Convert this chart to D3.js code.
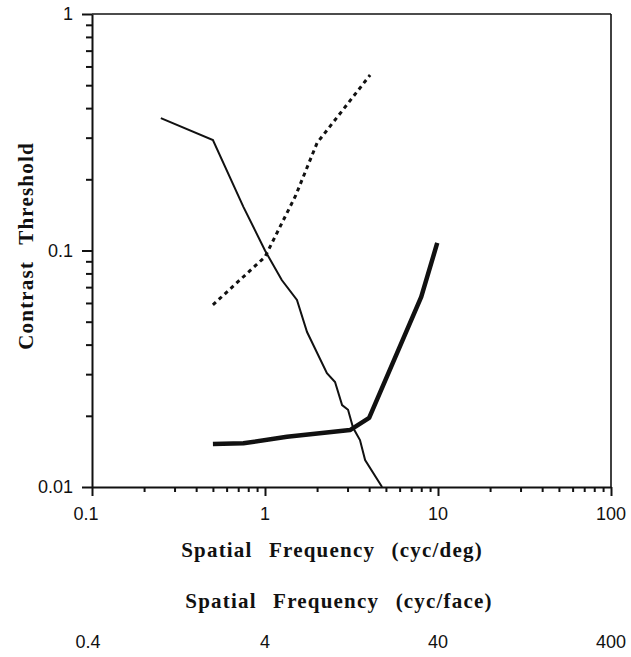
<!DOCTYPE html>
<html>
<head>
<meta charset="utf-8">
<script src="https://cdn.jsdelivr.net/npm/d3@7"></script>
<style>
  body { margin: 0; background: #fff; }
  .tick-label { font-family: "Liberation Sans", Arial, sans-serif; font-size: 18px; fill: #111; }
  .axis-title { font-family: "Liberation Serif", "Times New Roman", serif; font-weight: bold; font-size: 21px; letter-spacing: 1.2px; word-spacing: 10px; fill: #111; }
</style>
</head>
<body>
<div id="chart"></div>
<script>
// thin solid curve (cyc/deg, threshold)
const thinFreq = [0.25, 0.5, 0.75, 1.0, 1.25, 1.53, 1.75, 2.28, 2.54, 2.79, 3.02, 3.23, 3.54, 3.79, 4.75];
const thinThr  = [0.363, 0.293, 0.153, 0.1, 0.075, 0.0618, 0.0452, 0.0303, 0.0278, 0.0222, 0.0212, 0.0178, 0.0158, 0.013, 0.01];

// dotted curve
const dotFreq = [0.5, 1.0, 1.5, 2.0, 4.05];
const dotThr  = [0.0589, 0.094, 0.17, 0.285, 0.552];

// thick curve
const thickFreq = [0.5, 0.75, 1.34, 3.1, 4.0, 8.0, 9.9];
const thickThr  = [0.0152, 0.0153, 0.0163, 0.0174, 0.0196, 0.0636, 0.1076];

const xTickLabels = ['0.1', '1', '10', '100'];
const yTickLabels = ['0.01', '0.1', '1'];
const faceTickLabels = ['0.4', '4', '40', '400'];

const W = 631, H = 657;
const m = { left: 92, right: 611, top: 14, bottom: 487 };

const svg = d3.select('#chart').append('svg')
    .attr('width', W).attr('height', H);

const x = d3.scaleLog().domain([0.1, 100]).range([m.left, m.right]);
const xFace = d3.scaleLog().domain([0.4, 400]).range([m.left, m.right]);
const y = d3.scaleLog().domain([0.01, 1]).range([m.bottom, m.top]);

function logTicks(lo, hi) {
    const t = [];
    for (let e = Math.round(Math.log10(lo)); e < Math.round(Math.log10(hi)); e++) {
        for (let k = 1; k < 10; k++) t.push(k * Math.pow(10, e));
    }
    t.push(hi);
    return t;
}
const isMajor = v => Math.abs(Math.log10(v) - Math.round(Math.log10(v))) < 1e-6;

// frame top/right
svg.append('line').attr('x1', m.left).attr('x2', m.right).attr('y1', m.top).attr('y2', m.top)
    .attr('stroke', '#111').attr('stroke-width', 1.6);
svg.append('line').attr('x1', m.right).attr('x2', m.right).attr('y1', m.top).attr('y2', m.bottom)
    .attr('stroke', '#111').attr('stroke-width', 1.6);

// y axis
const yAxis = svg.append('g')
    .attr('transform', `translate(${m.left},0)`)
    .call(d3.axisLeft(y).tickValues(logTicks(0.01, 1)).tickFormat('').tickSizeOuter(0));
yAxis.select('.domain').attr('stroke', '#111').attr('stroke-width', 2);
yAxis.selectAll('.tick line')
    .attr('x2', d => isMajor(d) ? -10 : -6)
    .attr('stroke', '#111').attr('stroke-width', 2);

// x axis
const xAxis = svg.append('g')
    .attr('transform', `translate(0,${m.bottom})`)
    .call(d3.axisBottom(x).tickValues(logTicks(0.1, 100)).tickFormat('').tickSizeOuter(0));
xAxis.select('.domain').attr('stroke', '#111').attr('stroke-width', 2);
xAxis.selectAll('.tick line')
    .attr('y2', d => isMajor(d) ? 9 : 5)
    .attr('stroke', '#111').attr('stroke-width', 2);

// tick labels
svg.selectAll('.ylab').data(yTickLabels).enter().append('text')
    .attr('class', 'tick-label')
    .attr('x', m.left - 19)
    .attr('y', d => y(+d) + 6)
    .attr('text-anchor', 'end')
    .text(d => d);

svg.selectAll('.xlab').data(xTickLabels).enter().append('text')
    .attr('class', 'tick-label')
    .attr('x', d => x(+d) - (d === '0.1' ? 6 : 0))
    .attr('y', 520)
    .attr('text-anchor', 'middle')
    .text(d => d);

svg.selectAll('.flab').data(faceTickLabels).enter().append('text')
    .attr('class', 'tick-label')
    .attr('x', d => xFace(+d) - (d === '0.4' ? 4 : 0))
    .attr('y', 648)
    .attr('text-anchor', 'middle')
    .text(d => d);

// axis titles
svg.append('text').attr('class', 'axis-title')
    .attr('x', 332).attr('y', 557).attr('text-anchor', 'middle')
    .text('Spatial Frequency (cyc/deg)');
svg.append('text').attr('class', 'axis-title')
    .attr('x', 339).attr('y', 608).attr('text-anchor', 'middle')
    .text('Spatial Frequency (cyc/face)');
svg.append('text').attr('class', 'axis-title')
    .attr('transform', 'translate(33,246) rotate(-90)')
    .attr('text-anchor', 'middle')
    .text('Contrast Threshold');

// curves
const line = d3.line().x(d => x(d[0])).y(d => y(d[1]));
const zip = (a, b) => a.map((v, i) => [v, b[i]]);

svg.append('path').datum(zip(thinFreq, thinThr))
    .attr('d', line).attr('fill', 'none').attr('stroke', '#111').attr('stroke-width', 2);
svg.append('path').datum(zip(dotFreq, dotThr))
    .attr('d', line).attr('fill', 'none').attr('stroke', '#111').attr('stroke-width', 3)
    .attr('stroke-dasharray', '4,4');
svg.append('path').datum(zip(thickFreq, thickThr))
    .attr('d', line).attr('fill', 'none').attr('stroke', '#111').attr('stroke-width', 4.5)
    .attr('stroke-linejoin', 'round');
</script>
</body>
</html>
